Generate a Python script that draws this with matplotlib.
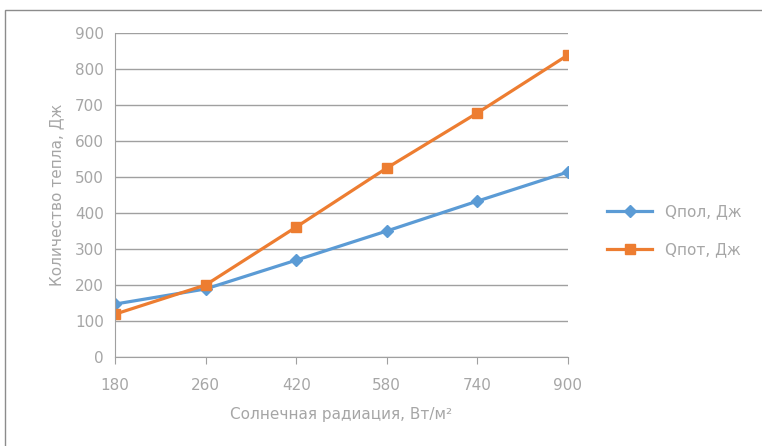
import matplotlib.pyplot as plt
from matplotlib.patches import Rectangle

# солнечная радиация, Вт/м2
radiation = ['180', '260', '420', '580', '740', '900']
q_pol = [147, 189, 269, 350, 433, 514]
q_pot = [119, 200, 361, 525, 678, 839]
labels = ['Qпол, Дж', 'Qпот, Дж']

txt = '#a6a6a6'
grid = '#a0a0a0'

fig = plt.figure(figsize=(7.62, 4.46), dpi=100)
fig.patches.append(Rectangle((5 / 762, -0.05), 1.0, 1 - 10 / 446 + 0.05,
                             transform=fig.transFigure, fill=False,
                             edgecolor='#8c8c8c', linewidth=1.0))

ax = fig.add_axes([115 / 762, 89 / 446, 453 / 762, 324 / 446])
x = range(len(radiation))
ax.plot(x, q_pol, color='#5b9bd5', lw=2.3, marker='D', ms=6, label=labels[0])
ax.plot(x, q_pot, color='#ed7d31', lw=2.3, marker='s', ms=7, label=labels[1])

ax.set_xlim(0, len(radiation) - 1)
ax.set_ylim(0, 900)
ax.set_yticks(range(0, 901, 100))
ax.set_xticks(list(x))
ax.set_xticklabels(radiation)
ax.grid(axis='y', color=grid, linewidth=1)
ax.set_axisbelow(True)
for s in ['top', 'right']:
    ax.spines[s].set_visible(False)
ax.spines['left'].set_color(grid)
ax.spines['bottom'].set_color(grid)
ax.tick_params(axis='y', length=0, pad=8, labelsize=11, labelcolor=txt)
ax.tick_params(axis='x', length=5, color=grid, pad=10, labelsize=11, labelcolor=txt)

ax.set_xlabel('Солнечная радиация, Вт/м²', fontsize=11, color=txt, labelpad=10)
ax.set_ylabel('Количество тепла, Дж', fontsize=11, color=txt, labelpad=8)

ax.legend(loc='center left', bbox_to_anchor=(1.055, 0.39), frameon=False,
          fontsize=11, labelcolor=txt, handlelength=3.0, labelspacing=1.5)

fig.savefig('out.png', dpi=100)
